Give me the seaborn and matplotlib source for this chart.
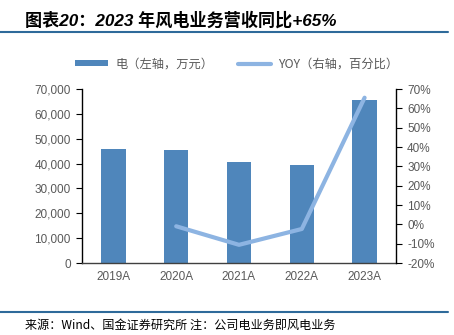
import numpy as np
import pandas as pd
import matplotlib
matplotlib.use("Agg")
import matplotlib.pyplot as plt
from matplotlib.lines import Line2D
from matplotlib.patches import Patch
import seaborn as sns

years = ["2019A", "2020A", "2021A", "2022A", "2023A"]
revenue = [46000, 45500, 40600, 39500, 65400]
yoy = [np.nan, -1.0, -10.6, -2.4, 65.5]
left_ticks = [0, 10000, 20000, 30000, 40000, 50000, 60000, 70000]
right_ticks = [-20, -10, 0, 10, 20, 30, 40, 50, 60, 70]

title = "图表20：2023 年风电业务营收同比+65%"
source = "来源：Wind、国金证券研究所 注：公司电业务即风电业务"
bar_label = "电（左轴，万元）"
line_label = "YOY（右轴，百分比）"

sns.set_theme(style="white")
plt.rcParams["font.family"] = ["Liberation Sans", "Noto Sans CJK SC", "DejaVu Sans"]

bar_color = "#4F86BB"
line_color = "#8DB4E2"
txt_gray = "#595959"

W, H = 454, 335
fig = plt.figure(figsize=(W / 100, H / 100), dpi=100)
ax = fig.add_axes([82 / W, 1 - 263 / H, (396 - 82) / W, (263 - 89) / H])

df = pd.DataFrame({"year": years, "revenue": revenue, "yoy": yoy})
sns.barplot(data=df, x="year", y="revenue", color=bar_color, width=0.39,
            saturation=1, ax=ax, edgecolor="none")
ax.set_xlim(-0.5, 4.5)
ax.set_ylim(0, 70000)
ax.set_yticks(left_ticks)
ax.set_yticklabels([f"{v:,}" for v in left_ticks])
ax.set_xlabel("")
ax.set_ylabel("")

ax2 = ax.twinx()
pos = np.arange(len(years))
sns.lineplot(x=pos, y=df["yoy"].values, ax=ax2, color=line_color, linewidth=3)
ax2.set_ylim(-20, 70)
ax2.set_yticks(right_ticks)
ax2.set_yticklabels([f"{v}%" for v in right_ticks])
ax2.set_xlim(-0.5, 4.5)

for a in (ax, ax2):
    for s in a.spines.values():
        s.set_visible(False)
ax.spines["left"].set_visible(True)
ax.spines["left"].set_color("black")
ax.spines["left"].set_linewidth(1.0)
ax.spines["bottom"].set_visible(True)
ax.spines["bottom"].set_color("#404040")
ax.spines["bottom"].set_linewidth(1.0)
ax2.spines["right"].set_visible(True)
ax2.spines["right"].set_color("black")
ax2.spines["right"].set_linewidth(1.0)

ax.tick_params(axis="y", direction="out", length=4, width=0.8, color="black",
               labelsize=8.5, labelcolor=txt_gray, pad=4, left=True)
ax.tick_params(axis="x", length=0, labelsize=8.5, labelcolor=txt_gray, pad=6)
ax2.tick_params(axis="y", direction="out", length=4, width=0.8, color="black",
                labelsize=8.5, labelcolor=txt_gray, pad=4, right=True)
ax.grid(False)
ax2.grid(False)

handles = [Patch(facecolor=bar_color, edgecolor="none", label=bar_label),
           Line2D([0], [0], color=line_color, linewidth=3, label=line_label)]
leg = fig.legend(handles=handles, loc="center", bbox_to_anchor=(237 / W, 1 - 64 / H),
                 ncol=2, frameon=False, handlelength=2.7,
                 handleheight=0.35, handletextpad=0.6, columnspacing=2.0,
                 prop={"family": ["Noto Sans CJK SC", "DejaVu Sans"], "size": 8.8})
for t in leg.get_texts():
    t.set_color(txt_gray)

fig.text(25 / W, 1 - 20 / H, title, fontsize=12.3, fontweight="bold", style="italic",
         family=["Liberation Sans", "Noto Sans CJK SC"], ha="left", va="center", color="black")
fig.add_artist(Line2D([0, 448 / W], [1 - 32 / H, 1 - 32 / H], color="#2E6A9A", linewidth=1.5))
fig.add_artist(Line2D([0, 448 / W], [1 - 312 / H, 1 - 312 / H], color="#2E6A9A", linewidth=1.5))
fig.text(25 / W, 1 - 325 / H, source, fontsize=8.7,
         family=["Noto Sans CJK SC", "Liberation Sans"], ha="left", va="center", color="black")

fig.savefig("out.png", dpi=100)
